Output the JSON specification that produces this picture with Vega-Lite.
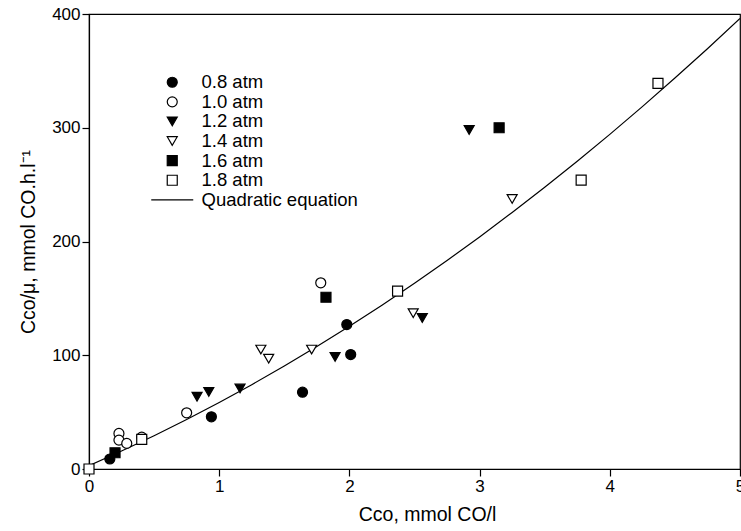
{
  "$schema": "https://vega.github.io/schema/vega-lite/v6.json",
  "width": 651,
  "height": 455,
  "autosize": "none",
  "padding": {"left": 89, "top": 14, "right": 1, "bottom": 62},
  "config": {
    "font": "Liberation Sans",
    "view": {"stroke": "black", "strokeWidth": 1.2},
    "axis": {
      "grid": false,
      "labelFlush": false,
      "labelOverlap": false,
      "domainColor": "black",
      "domainWidth": 1.2,
      "tickColor": "black",
      "tickWidth": 1.2,
      "tickSize": 7,
      "labelPadding": 2,
      "labelColor": "black",
      "labelFontSize": 17,
      "labelFont": "Liberation Sans",
      "titleFont": "Liberation Sans",
      "titleFontSize": 19.5,
      "titleFontWeight": "normal",
      "titleColor": "black"
    },
    "legend": {
      "title": null,
      "orient": "none",
      "legendX": 74,
      "legendY": 59,
      "padding": 0,
      "symbolSize": 100,
      "symbolStrokeColor": "black",
      "symbolStrokeWidth": 1.2,
      "labelFontSize": 18.5,
      "labelFont": "Liberation Sans",
      "labelColor": "black",
      "labelOffset": 20,
      "rowPadding": 0.6
    }
  },
  "datasets": {
    "pts": [
      {"x": 0.16, "y": 8.8, "series": "0.8 atm"},
      {"x": 0.94, "y": 45.9, "series": "0.8 atm"},
      {"x": 1.64, "y": 67.5, "series": "0.8 atm"},
      {"x": 1.98, "y": 127, "series": "0.8 atm"},
      {"x": 2.01, "y": 100.6, "series": "0.8 atm"},
      {"x": 0.23, "y": 31.3, "series": "1.0 atm"},
      {"x": 0.23, "y": 25.4, "series": "1.0 atm"},
      {"x": 0.29, "y": 22.5, "series": "1.0 atm"},
      {"x": 0.405, "y": 28, "series": "1.0 atm"},
      {"x": 0.75, "y": 49.4, "series": "1.0 atm"},
      {"x": 1.78, "y": 163.7, "series": "1.0 atm"},
      {"x": 0.83, "y": 63.5, "series": "1.2 atm"},
      {"x": 0.92, "y": 67.8, "series": "1.2 atm"},
      {"x": 1.16, "y": 70.8, "series": "1.2 atm"},
      {"x": 1.89, "y": 98.5, "series": "1.2 atm"},
      {"x": 2.56, "y": 132.7, "series": "1.2 atm"},
      {"x": 2.92, "y": 298, "series": "1.2 atm"},
      {"x": 1.32, "y": 105, "series": "1.4 atm"},
      {"x": 1.38, "y": 97, "series": "1.4 atm"},
      {"x": 1.71, "y": 105, "series": "1.4 atm"},
      {"x": 2.49, "y": 137, "series": "1.4 atm"},
      {"x": 3.25, "y": 237.4, "series": "1.4 atm"},
      {"x": 0.2, "y": 14.3, "series": "1.6 atm"},
      {"x": 1.82, "y": 151, "series": "1.6 atm"},
      {"x": 3.15, "y": 300, "series": "1.6 atm"},
      {"x": 0, "y": 0, "series": "1.8 atm"},
      {"x": 0.405, "y": 26, "series": "1.8 atm"},
      {"x": 2.37, "y": 156.4, "series": "1.8 atm"},
      {"x": 3.78, "y": 254, "series": "1.8 atm"},
      {"x": 4.37, "y": 339, "series": "1.8 atm"}
    ],
    "curve": [
      {"x": 0, "y": 3},
      {"x": 0.25, "y": 15.8},
      {"x": 0.5, "y": 29.3},
      {"x": 0.75, "y": 43.5},
      {"x": 1, "y": 58.4},
      {"x": 1.25, "y": 74.1},
      {"x": 1.5, "y": 90.5},
      {"x": 1.75, "y": 107.6},
      {"x": 2, "y": 125.4},
      {"x": 2.25, "y": 144},
      {"x": 2.5, "y": 163.3},
      {"x": 2.75, "y": 183.3},
      {"x": 3, "y": 204},
      {"x": 3.25, "y": 225.5},
      {"x": 3.5, "y": 247.7},
      {"x": 3.75, "y": 270.6},
      {"x": 4, "y": 294.2},
      {"x": 4.25, "y": 318.6},
      {"x": 4.5, "y": 343.7},
      {"x": 4.75, "y": 369.5},
      {"x": 5, "y": 396}
    ]
  },
  "encoding": {
    "x": {
      "field": "x", "type": "quantitative",
      "scale": {"domain": [0, 5], "nice": false, "zero": false},
      "axis": {"values": [0, 1, 2, 3, 4, 5], "title": "Cᴄᴏ, mmol CO/l", "titlePadding": 11, "titleX": 338}
    },
    "y": {
      "field": "y", "type": "quantitative",
      "scale": {"domain": [0, 400], "nice": false},
      "axis": {"values": [0, 100, 200, 300, 400], "title": "Cᴄᴏ/μ, mmol CO.h.l⁻¹", "titlePadding": 13}
    }
  },
  "layer": [
    {
      "data": {"name": "curve"},
      "mark": {"type": "line", "color": "black", "strokeWidth": 1.2, "clip": true}
    },
    {
      "data": {"name": "pts"},
      "mark": {"type": "point", "filled": true, "strokeWidth": 1.2, "opacity": 1, "size": 100},
      "encoding": {
        "shape": {
          "field": "series", "type": "nominal",
          "scale": {
            "domain": ["0.8 atm", "1.0 atm", "1.2 atm", "1.4 atm", "1.6 atm", "1.8 atm", "Quadratic equation"],
            "range": ["circle", "circle", "triangle-down", "triangle-down", "square", "square", "M-4.2,0H4.2"]
          }
        },
        "fill": {
          "field": "series", "type": "nominal",
          "scale": {
            "domain": ["0.8 atm", "1.0 atm", "1.2 atm", "1.4 atm", "1.6 atm", "1.8 atm", "Quadratic equation"],
            "range": ["black", "white", "black", "white", "black", "white", "transparent"]
          }
        },
        "stroke": {
          "field": "series", "type": "nominal",
          "scale": {
            "domain": ["0.8 atm", "1.0 atm", "1.2 atm", "1.4 atm", "1.6 atm", "1.8 atm", "Quadratic equation"],
            "range": ["black", "black", "black", "black", "black", "black", "black"]
          }
        }
      }
    }
  ]
}
